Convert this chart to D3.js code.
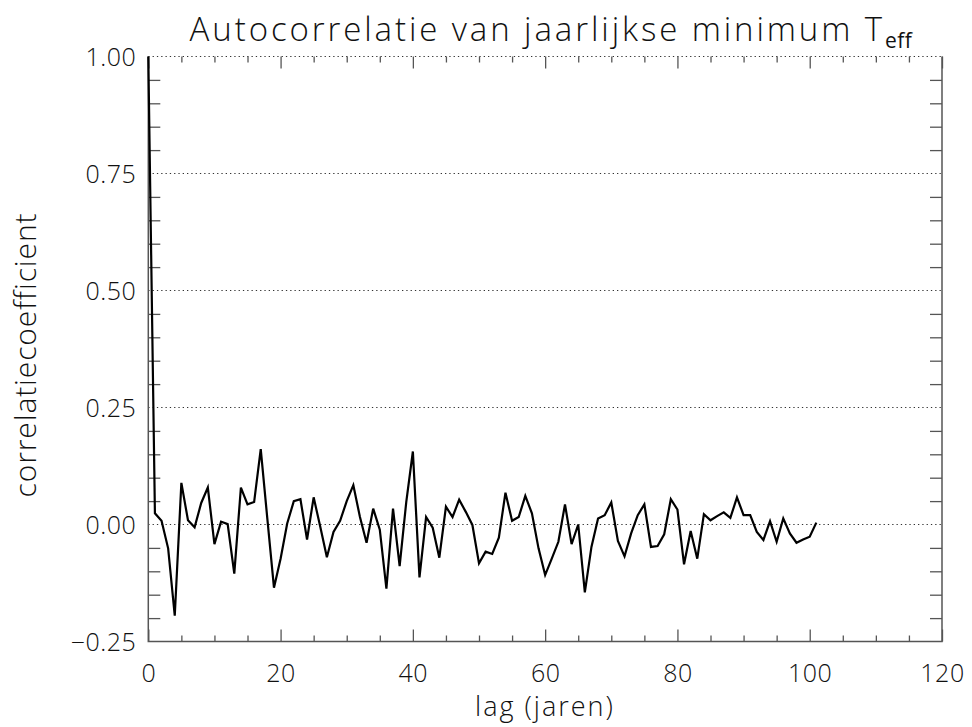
<!DOCTYPE html>
<html>
<head>
<meta charset="utf-8">
<title>Autocorrelatie</title>
<script type="text/javascript" src="https://d3js.org/d3.v7.js"></script>
<style>
  body { margin: 0; background: #fff; }
  text { font-family: "Open Sans", "DejaVu Sans", sans-serif; font-weight: 300; fill: #111; }
</style>
</head>
<body>
<script type="text/javascript">
const width = 972;
const height = 727;
const marginTop = 56.5;
const marginRight = 30;
const marginBottom = 85.5;
const marginLeft = 148.3;

// autocorrelatie per lag (jaren)
const lags = d3.range(0, 102);
const acf = [
  1.000, 0.024, 0.008, -0.051, -0.195, 0.089, 0.009, -0.006, 0.046, 0.079,
  -0.042, 0.006, 0.001, -0.105, 0.079, 0.043, 0.048, 0.161, 0.012, -0.135,
  -0.073, 0.002, 0.050, 0.054, -0.032, 0.058, -0.005, -0.070, -0.016, 0.008,
  0.050, 0.084, 0.016, -0.039, 0.034, -0.011, -0.137, 0.034, -0.089, 0.048,
  0.156, -0.113, 0.016, -0.007, -0.071, 0.038, 0.016, 0.053, 0.027, -0.001,
  -0.083, -0.058, -0.063, -0.028, 0.068, 0.008, 0.016, 0.061, 0.024, -0.051,
  -0.108, -0.073, -0.037, 0.043, -0.042, 0.000, -0.145, -0.048, 0.013, 0.020,
  0.047, -0.035, -0.068, -0.019, 0.020, 0.043, -0.048, -0.046, -0.021, 0.054,
  0.032, -0.085, -0.014, -0.073, 0.022, 0.009, 0.018, 0.026, 0.014, 0.058,
  0.020, 0.020, -0.016, -0.033, 0.007, -0.037, 0.013, -0.019, -0.039, -0.032,
  -0.026, 0.004
];
const xTicks = [0, 20, 40, 60, 80, 100, 120];
const yTicks = [-0.25, 0.00, 0.25, 0.50, 0.75, 1.00];

const svg = d3.select("body").append("svg")
  .attr("width", width)
  .attr("height", height);

const x = d3.scaleLinear().domain([0, 120]).range([marginLeft, width - marginRight]);
const y = d3.scaleLinear().domain([-0.25, 1.0]).range([height - marginBottom, marginTop]);

const axisColor = "#555";
const xMinor = d3.range(0, 121, 5).filter(d => d % 20 !== 0);
const yMinor = d3.range(-0.25, 1.0001, 0.05).filter(d => Math.abs(Math.round(d * 4) - d * 4) > 1e-6);

// dotted grid lines at the major y ticks
svg.append("g")
  .selectAll("line")
  .data(yTicks.filter(d => d > -0.25))
  .join("line")
  .attr("x1", x(0)).attr("x2", x(120))
  .attr("y1", d => y(d)).attr("y2", d => y(d))
  .attr("stroke", "#333")
  .attr("stroke-width", 1)
  .attr("stroke-dasharray", "1.3,3");

// bottom axis: major ticks with labels, minor ticks
const gx = svg.append("g")
  .attr("transform", `translate(0,${y(-0.25)})`)
  .call(d3.axisBottom(x).tickValues(xTicks).tickSize(-12).tickPadding(23).tickFormat(d3.format("d")));
gx.append("g").call(d3.axisBottom(x).tickValues(xMinor).tickSize(-6).tickFormat(""));

// top axis (ticks only)
const gt = svg.append("g")
  .attr("transform", `translate(0,${y(1.0)})`)
  .call(d3.axisTop(x).tickValues(xTicks).tickSize(-12).tickFormat(""));
gt.append("g").call(d3.axisTop(x).tickValues(xMinor).tickSize(-6).tickFormat(""));

// left axis: labels and minor ticks
const gy = svg.append("g")
  .attr("transform", `translate(${x(0)},0)`)
  .call(d3.axisLeft(y).tickValues(yTicks).tickSize(0).tickPadding(12).tickFormat(d3.format(".2f")));
gy.append("g").call(d3.axisLeft(y).tickValues(yMinor).tickSize(-12).tickFormat(""));

// right axis: minor ticks
const gr = svg.append("g")
  .attr("transform", `translate(${x(120)},0)`)
  .call(d3.axisRight(y).tickValues(yMinor).tickSize(-12).tickFormat(""));

[gx, gt, gy, gr].forEach(g => {
  g.selectAll(".domain").remove();
  g.selectAll("line").attr("stroke", axisColor).attr("stroke-width", 1.3);
  g.selectAll("text").attr("font-size", 25).attr("font-family", null).attr("fill", "#111")
    .attr("letter-spacing", 0.5);
});
gy.selectAll("text").attr("dy", "0.36em");

// frame: solid left, right, bottom; top is the dotted grid at 1.00
svg.append("path")
  .attr("d", `M${x(0)},${y(1.0)}V${y(-0.25)}H${x(120)}V${y(1.0)}`)
  .attr("fill", "none")
  .attr("stroke", axisColor)
  .attr("stroke-width", 1.5);

// autocorrelation line
const line = d3.line()
  .x((d, i) => x(lags[i]))
  .y(d => y(d));
svg.append("path")
  .datum(acf)
  .attr("d", line)
  .attr("fill", "none")
  .attr("stroke", "#000")
  .attr("stroke-width", 2.2)
  .attr("stroke-linejoin", "miter");

// titles
const title = svg.append("text")
  .attr("x", 551)
  .attr("y", 41)
  .attr("text-anchor", "middle")
  .attr("font-size", 33)
  .attr("letter-spacing", 2.9);
title.append("tspan").text("Autocorrelatie van jaarlijkse minimum T");
title.append("tspan").attr("font-size", 21).attr("dy", 7).attr("font-weight", 400)
  .attr("letter-spacing", 0.5).text("eff");

svg.append("text")
  .attr("x", 545)
  .attr("y", 716)
  .attr("text-anchor", "middle")
  .attr("font-size", 27)
  .attr("letter-spacing", 2)
  .text("lag (jaren)");

svg.append("text")
  .attr("transform", "translate(36,355) rotate(-90)")
  .attr("text-anchor", "middle")
  .attr("font-size", 30)
  .attr("letter-spacing", 0.9)
  .text("correlatiecoefficient");
</script>
</body>
</html>
